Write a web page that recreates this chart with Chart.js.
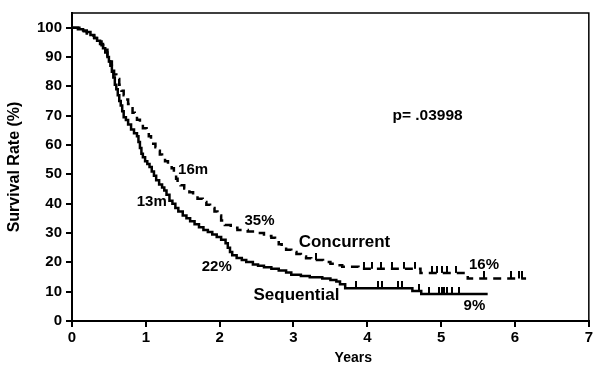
<!DOCTYPE html>
<html>
<head>
<meta charset="utf-8">
<script src="https://cdn.jsdelivr.net/npm/chart.js@4/dist/chart.umd.min.js"></script>
<style>
  html, body { margin: 0; padding: 0; background: #fff; }
  #wrap { width: 595px; height: 366px; position: relative; }
</style>
</head>
<body>
<div id="wrap"><canvas id="km"></canvas></div>
<script>
// Kaplan-Meier estimates (years, % surviving)
const seqYears = [0, 0.08, 0.15, 0.2, 0.25, 0.3, 0.34, 0.38, 0.42, 0.45, 0.48, 0.5, 0.52, 0.54, 0.56, 0.58, 0.6, 0.62, 0.64, 0.66, 0.68, 0.7, 0.73, 0.76, 0.8, 0.84, 0.88, 0.9, 0.92, 0.94, 0.96, 0.99, 1.02, 1.05, 1.08, 1.11, 1.14, 1.18, 1.22, 1.25, 1.28, 1.32, 1.36, 1.4, 1.44, 1.5, 1.55, 1.6, 1.66, 1.72, 1.78, 1.84, 1.9, 1.96, 2.02, 2.08, 2.11, 2.14, 2.17, 2.23, 2.3, 2.36, 2.45, 2.52, 2.6, 2.7, 2.8, 2.9, 2.97, 3.1, 3.22, 3.39, 3.5, 3.58, 3.63, 3.7, 4.61, 4.73, 5.63];
const seqSurvival = [100, 99.5, 99, 98.5, 97.5, 96.5, 95.5, 94.4, 93, 91.5, 90, 88.5, 87, 85, 83, 80.5, 79, 77, 75, 73.5, 71.5, 69.5, 68.5, 67, 65.3, 64, 63, 61, 59, 57, 55.8, 54.5, 53.5, 52.5, 51, 49.5, 48, 46.5, 45.5, 44.5, 43, 41, 40, 38.5, 37.3, 36, 35, 34, 33, 32, 31, 30.3, 29.5, 28.6, 27.7, 26.5, 25, 23.5, 22.4, 21.5, 20.8, 20.1, 19.3, 18.8, 18.3, 17.8, 17.2, 16.5, 15.8, 15.3, 14.9, 14.5, 14, 13.5, 12.5, 11.2, 10.2, 9.2, 9.2];

const conYears = [0, 0.1, 0.16, 0.2, 0.25, 0.3, 0.35, 0.4, 0.44, 0.48, 0.51, 0.54, 0.57, 0.6, 0.64, 0.67, 0.7, 0.73, 0.76, 0.79, 0.82, 0.85, 0.88, 0.92, 0.96, 1.01, 1.04, 1.07, 1.1, 1.13, 1.16, 1.19, 1.22, 1.26, 1.3, 1.35, 1.38, 1.41, 1.43, 1.47, 1.52, 1.59, 1.64, 1.7, 1.77, 1.82, 1.87, 1.93, 1.97, 2.02, 2.07, 2.15, 2.24, 2.38, 2.51, 2.6, 2.7, 2.75, 2.8, 2.84, 2.9, 2.97, 3.04, 3.1, 3.17, 3.24, 3.4, 3.5, 3.58, 3.66, 3.88, 4.72, 5.36, 6.15];
const conSurvival = [100, 99.5, 98.8, 98, 97.3, 96.5, 95.3, 94, 92.5, 90.5, 88.5, 86, 84, 82.5, 80.5, 78.5, 77, 75.5, 74, 72.5, 71, 69.7, 68.6, 67, 65.7, 64.7, 63, 61.5, 60.4, 59.2, 58, 56.8, 55.8, 54.5, 53.5, 52.1, 50.5, 48.5, 47.2, 46.3, 45.2, 43.9, 42.9, 41.7, 40.6, 39.6, 38.5, 37.3, 36, 34.3, 32.7, 31.8, 31, 30.5, 30, 29, 28.4, 27.3, 26.2, 25.1, 24.3, 23.5, 22.8, 22, 21.4, 20.8, 20.1, 19.5, 19, 18.5, 17.8, 16.4, 14.5, 14.5];

// censored observations (years)
const seqCensored = [3.85, 4.14, 4.2, 4.41, 4.47, 4.7, 4.84, 4.97, 5.01, 5.04, 5.08, 5.14, 5.24];
const conCensored = [3.3, 3.96, 4.07, 4.19, 4.34, 4.5, 4.64, 4.88, 4.95, 5.01, 5.08, 5.2, 5.58, 5.95, 6.05, 6.1];

const xTicks = [0, 1, 2, 3, 4, 5, 6, 7];
const yTicks = [0, 10, 20, 30, 40, 50, 60, 70, 80, 90, 100];

const toPoints = (xs, ys) => xs.map((x, i) => ({ x: x, y: ys[i] }));

// value of a stepped curve at time t
function survivalAt(xs, ys, t) {
    let s = ys[0];
    for (let i = 0; i < xs.length; i++) if (xs[i] < t) s = ys[i];
    return s;
}
const censorPoints = (ts, xs, ys) => ts.map(t => ({ x: t, y: survivalAt(xs, ys, t) }));

// small upward tick used as the censor marker
const censorMark = document.createElement('canvas');
censorMark.width = 2;
censorMark.height = 14;
const cm = censorMark.getContext('2d');
cm.fillStyle = '#000';
cm.fillRect(0, 0, 2, 7);

const notes = [
    { text: 'p= .03998', x: 4.34, y: 70, size: 15.5, align: 'left' },
    { text: '16m', x: 1.64, y: 51.5, size: 15 },
    { text: '13m', x: 1.08, y: 40.6, size: 15 },
    { text: '35%', x: 2.54, y: 34, size: 15 },
    { text: '22%', x: 1.96, y: 18.5, size: 15 },
    { text: 'Concurrent', x: 3.69, y: 26.7, size: 17 },
    { text: 'Sequential', x: 3.04, y: 8.6, size: 17 },
    { text: '16%', x: 5.58, y: 19.1, size: 15 },
    { text: '9%', x: 5.45, y: 5, size: 15 },
];

const FONT = '"Liberation Sans", Arial, Helvetica, sans-serif';

const framePlugin = {
    id: 'frame',
    afterDraw(chart) {
        const { ctx, chartArea: a } = chart;
        ctx.save();
        ctx.strokeStyle = '#000';
        ctx.lineWidth = 1.5;
        ctx.beginPath();
        ctx.moveTo(a.left, a.top);
        ctx.lineTo(a.right, a.top);
        ctx.lineTo(a.right, a.bottom);
        ctx.stroke();
        ctx.restore();
    }
};

const notesPlugin = {
    id: 'notes',
    afterDraw(chart) {
        const { ctx, scales, chartArea } = chart;
        ctx.save();
        ctx.fillStyle = '#000';
        ctx.textBaseline = 'middle';
        notes.forEach(n => {
            ctx.font = 'bold ' + n.size + 'px ' + FONT;
            ctx.textAlign = n.align || 'center';
            ctx.fillText(n.text, scales.x.getPixelForValue(n.x), scales.y.getPixelForValue(n.y));
        });
        // x axis title sits a little right of centre in the original
        ctx.font = 'bold 14px ' + FONT;
        ctx.textAlign = 'center';
        ctx.fillText('Years', scales.x.getPixelForValue(3.81), chartArea.bottom + 37);
        ctx.restore();
    }
};

new Chart(document.getElementById('km'), {
    type: 'line',
    data: {
        datasets: [
            {
                label: 'Sequential',
                data: toPoints(seqYears, seqSurvival),
                borderColor: '#000',
                borderWidth: 2.5,
                stepped: true,
                pointRadius: 0,
                fill: false,
            },
            {
                label: 'Concurrent',
                data: toPoints(conYears, conSurvival),
                borderColor: '#000',
                borderWidth: 2.5,
                borderDash: [8, 6],
                stepped: true,
                pointRadius: 0,
                fill: false,
            },
            {
                label: 'Sequential censored',
                data: censorPoints(seqCensored, seqYears, seqSurvival),
                showLine: false,
                pointStyle: censorMark,
            },
            {
                label: 'Concurrent censored',
                data: censorPoints(conCensored, conYears, conSurvival),
                showLine: false,
                pointStyle: censorMark,
            },
        ],
    },
    options: {
        responsive: true,
        maintainAspectRatio: false,
        animation: false,
        layout: { padding: { top: 3, right: 5, left: 0, bottom: 0 } },
        plugins: {
            legend: { display: false },
            tooltip: { enabled: false },
        },
        scales: {
            x: {
                type: 'linear',
                min: 0,
                max: 7,
                afterBuildTicks: axis => { axis.ticks = xTicks.map(v => ({ value: v })); },
                afterFit: s => { s.height = 45; },
                ticks: { color: '#000', font: { family: FONT, size: 15, weight: 'bold' }, padding: 2, maxRotation: 0 },
                grid: { display: true, drawOnChartArea: false, drawTicks: true, tickLength: 6, color: '#000', lineWidth: 2 },
                border: { display: true, color: '#000', width: 2 },
                title: { display: false },
            },
            y: {
                min: 0,
                max: 105,
                afterBuildTicks: axis => { axis.ticks = yTicks.map(v => ({ value: v })); },
                afterFit: s => { s.width = 72; },
                ticks: { color: '#000', font: { family: FONT, size: 15, weight: 'bold' }, padding: 4 },
                grid: { display: true, drawOnChartArea: false, drawTicks: true, tickLength: 6, color: '#000', lineWidth: 2 },
                border: { display: true, color: '#000', width: 2 },
                title: { display: true, text: 'Survival Rate (%)', color: '#000', font: { family: FONT, size: 16, weight: 'bold' }, padding: { top: 5, bottom: 0 } },
            },
        },
    },
    plugins: [framePlugin, notesPlugin],
});
</script>
</body>
</html>
